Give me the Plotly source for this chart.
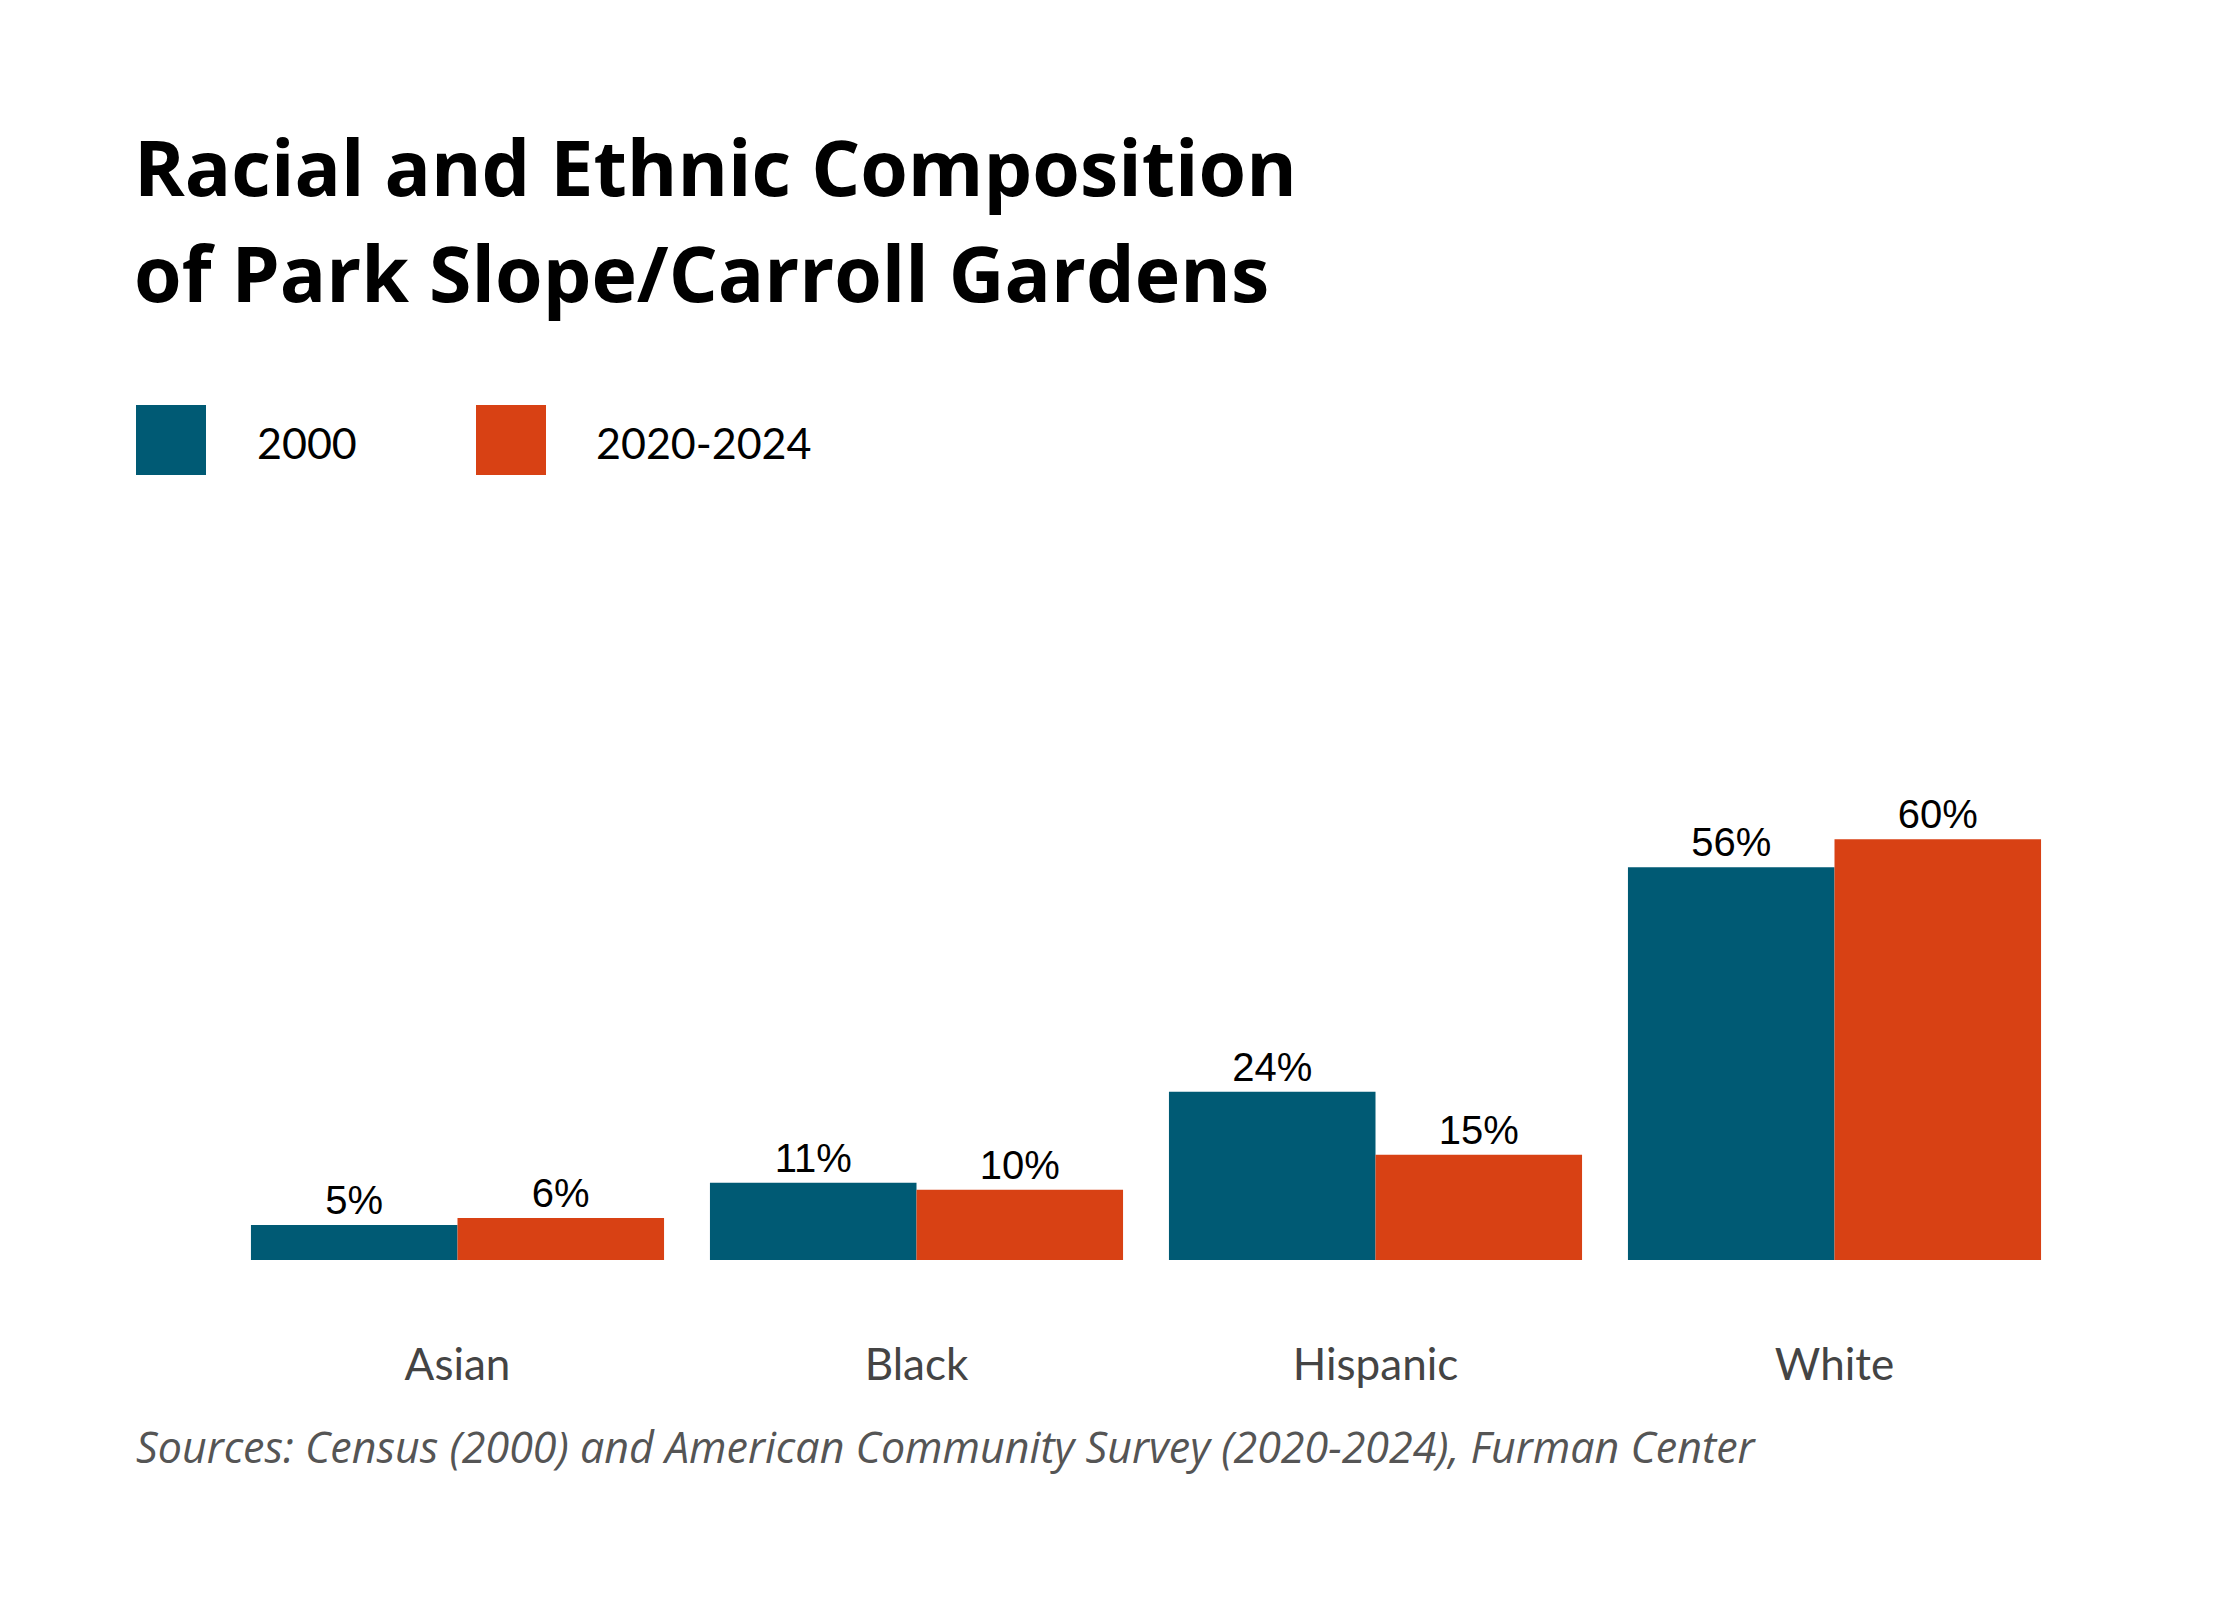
import plotly.graph_objects as go

# data
groups = ['Asian', 'Black', 'Hispanic', 'White']
series_names = ['2000', '2020-2024']
values_2000 = [5, 11, 24, 56]
values_2020 = [6, 10, 15, 60]
colors = ['#005A74', '#D84114']

title_lines = ['Racial and Ethnic Composition', 'of Park Slope/Carroll Gardens']
source_text = 'Sources: Census (2000) and American Community Survey (2020-2024), Furman Center'

W, H = 2240, 1600
# plot area in pixels (page adds an 8px body margin)
L, R, T, B = 220, 2056, 761, 1252


def px(x):
    return (x - L) / (R - L)


def py(y):
    return (B - y) / (B - T)


fig = go.Figure()
for name, vals, col in zip(series_names, [values_2000, values_2020], colors):
    fig.add_trace(go.Bar(
        x=groups,
        y=vals,
        name=name,
        marker_color=col,
        marker_line_width=0,
        texttemplate='%{y}%',
        textposition='outside',
        textfont=dict(family='Liberation Sans, Arial', size=40, color='black'),
        cliponaxis=False,
        showlegend=False,
    ))

# legend drawn by hand: big square swatches
legend_x = [128, 468]
legend_text_x = [247, 586]
shapes = []
annotations = []
for i, (name, col) in enumerate(zip(series_names, colors)):
    shapes.append(dict(
        type='rect', xref='paper', yref='paper',
        x0=px(legend_x[i]), x1=px(legend_x[i] + 70),
        y0=py(467), y1=py(397),
        fillcolor=col, line_width=0,
    ))
    annotations.append(dict(
        text=name, xref='paper', yref='paper',
        x=px(legend_text_x[i]), y=py(435),
        xanchor='left', yanchor='middle', showarrow=False,
        font=dict(family='Lato', size=43, color='black'),
    ))

# title, one annotation per line
for i, line in enumerate(title_lines):
    annotations.append(dict(
        text=line, xref='paper', yref='paper',
        x=px(124), y=py(158 + 106 * i),
        xanchor='left', yanchor='middle', showarrow=False,
        font=dict(family='Open Sans', size=77, color='black', weight=700),
    ))

annotations.append(dict(
    text=source_text, xref='paper', yref='paper',
    x=px(126), y=py(1438),
    xanchor='left', yanchor='middle', showarrow=False,
    font=dict(family='Open Sans', size=43, color='#555555', style='italic'),
))

fig.update_layout(
    width=W,
    height=H,
    margin=dict(l=L, r=W - R, t=T, b=H - B, pad=0),
    plot_bgcolor='white',
    paper_bgcolor='white',
    barmode='group',
    bargap=0.1,
    bargroupgap=0,
    xaxis=dict(
        showgrid=False, showline=False, zeroline=False,
        ticks='', ticklabelstandoff=75,
        tickfont=dict(family='Lato', size=44, color='#444444'),
    ),
    yaxis=dict(
        range=[0, 70], visible=False, showgrid=False, zeroline=False,
    ),
    shapes=shapes,
    annotations=annotations,
)

fig.write_html('out.html')
